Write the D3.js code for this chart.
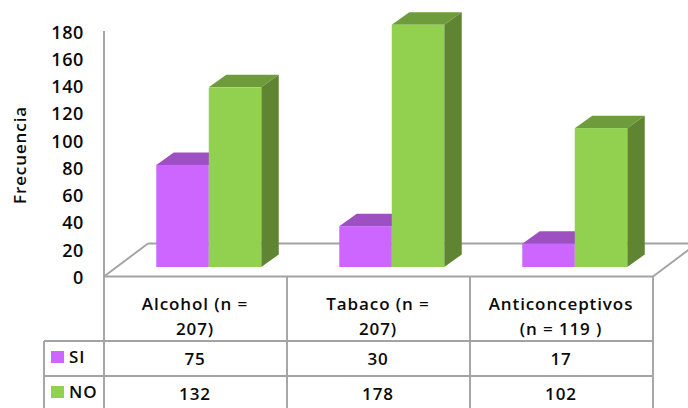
<!DOCTYPE html>
<html>
<head>
<meta charset="utf-8">
<script src="https://cdn.jsdelivr.net/npm/d3@7/dist/d3.min.js"></script>
<style>
html,body{margin:0;padding:0;background:#fff;}
svg{display:block;}
text{font-family:"Open Sans",sans-serif;font-weight:600;fill:#0a0a0a;font-size:17px;letter-spacing:0.9px;}
</style>
</head>
<body>
<script>
const categories = ["Alcohol", "Tabaco", "Anticonceptivos"];
const categoryLines = [["Alcohol (n =", "207)"], ["Tabaco (n =", "207)"], ["Anticonceptivos", "(n = 119 )"]];
const siValues = [75, 30, 17];
const noValues = [132, 178, 102];
const seriesNames = ["SI", "NO"];
const seriesFront = ["#cc66ff", "#92d050"];
const seriesTop = ["#9c50c2", "#6e9c3c"];
const seriesSide = ["#7a3f99", "#5f8432"];
const yTicks = d3.range(0, 181, 20);

const width = 688, height = 408;
const gridColor = "#a3a3a3";
const depth = {x: 17.5, y: 12.5};
const floorDepth = {x: 44, y: 32.5};

const svg = d3.select("body").append("svg").attr("width", width).attr("height", height);

const x = d3.scaleBand().domain(categories).range([104, 653]);
const inner = d3.scaleBand().domain(seriesNames).range([0, x.bandwidth()])
  .paddingInner(0).paddingOuter(0.743).align(0.67);
const yAxisScale = d3.scaleLinear().domain([0, 180]).range([276, 31]);
const yBar = d3.scaleLinear().domain([0, 180]).range([267, 22]);

const line = (x1, y1, x2, y2, w = 1.9) => svg.append("line")
  .attr("x1", x1).attr("y1", y1).attr("x2", x2).attr("y2", y2)
  .attr("stroke", gridColor).attr("stroke-width", w);

// Floor of the 3D plot and the vertical axis
const x0 = x.range()[0], x1 = x.range()[1], y0 = yAxisScale(0);
line(x0, y0 + 0.5, x0 + floorDepth.x, y0 - floorDepth.y);
line(x0 + floorDepth.x, y0 - floorDepth.y, width, y0 - floorDepth.y);
line(x1, y0 + 0.5, x1 + floorDepth.x, y0 - floorDepth.y);
line(x0, yAxisScale(180), x0, y0);
line(x0, y0 + 0.5, x1, y0 + 0.5);

// Tick labels
const yAxis = d3.axisLeft(yAxisScale).tickValues(yTicks).tickSize(0).tickPadding(0);
const axisG = svg.append("g").attr("transform", `translate(${x0 - 20},1.5)`).call(yAxis);
axisG.select(".domain").remove();
axisG.selectAll("text").style("font-size", "18px").style("letter-spacing", "0.6px")
  .style("font-family", "\"Open Sans\",sans-serif");

svg.append("text")
  .attr("transform", "translate(19.5,155) rotate(-90)")
  .attr("text-anchor", "middle").attr("dominant-baseline", "central")
  .text("Frecuencia");

// Bars: top, side, then front face, series by series
[siValues, noValues].forEach((values, s) => {
  const g = svg.append("g");
  values.forEach((v, i) => {
    const bx = x(categories[i]) + inner(seriesNames[s]);
    const w = inner.bandwidth();
    const top = yBar(v), base = yBar(0);
    g.append("path").attr("fill", seriesTop[s])
      .attr("d", `M${bx},${top}L${bx + depth.x},${top - depth.y}L${bx + w + depth.x},${top - depth.y}L${bx + w},${top}Z`);
    g.append("path").attr("fill", seriesSide[s])
      .attr("d", `M${bx + w},${top}L${bx + w + depth.x},${top - depth.y}L${bx + w + depth.x},${base - depth.y}L${bx + w},${base}Z`);
    g.append("rect").attr("x", bx).attr("y", top).attr("width", w).attr("height", base - top)
      .attr("fill", seriesFront[s]);
  });
});

// Data table beneath the plot
const rowY = [341, 376];
const legendLeft = 44;
x.domain().forEach(c => line(x(c), y0, x(c), height));
line(x1, y0, x1, height);
line(legendLeft, rowY[0], legendLeft, height);
rowY.forEach(y => line(legendLeft, y, x1, y));

categories.forEach((c, i) => {
  const cx = x(c) + x.bandwidth() / 2 - 0.5;
  categoryLines[i].forEach((t, j) => {
    svg.append("text").attr("x", cx).attr("y", 303.5 + j * 25)
      .attr("text-anchor", "middle").attr("dominant-baseline", "central").text(t);
  });
  [siValues, noValues].forEach((values, s) => {
    svg.append("text").attr("x", cx).attr("y", rowY[s] + 17.5)
      .attr("text-anchor", "middle").attr("dominant-baseline", "central").text(values[i]);
  });
});

seriesNames.forEach((name, s) => {
  svg.append("rect").attr("x", 51).attr("y", rowY[s] + 10).attr("width", 13).attr("height", 12)
    .attr("fill", seriesFront[s]);
  svg.append("text").attr("x", 69).attr("y", rowY[s] + 15.5)
    .attr("dominant-baseline", "central").text(name);
});
</script>
</body>
</html>
